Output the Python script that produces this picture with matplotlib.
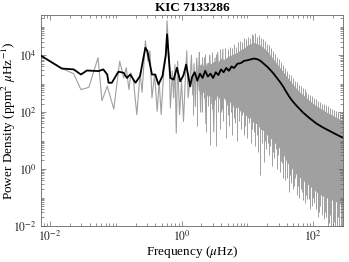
import numpy as np
import matplotlib
matplotlib.use('Agg')
import matplotlib.pyplot as plt
from matplotlib.ticker import FixedLocator, LogLocator, NullFormatter

# ---------------- data (log10 values) ----------------
# raw spectrum, sparse low-frequency part (log10 frequency in muHz, log10 power)
gray_logf = [-2.13, -1.82, -1.64, -1.53, -1.41, -1.27, -1.21, -1.13, -1.03, -0.94,
             -0.88, -0.84, -0.80, -0.77, -0.73, -0.68, -0.63, -0.60, -0.55, -0.51,
             -0.48, -0.45, -0.41, -0.37, -0.34, -0.31, -0.27, -0.24, -0.22, -0.19,
             -0.17, -0.14, -0.12, -0.10, -0.08, -0.06, -0.03, 0.00, 0.03, 0.06,
             0.08, 0.10, 0.13, 0.15, 0.17, 0.19, 0.21, 0.23, 0.25, 0.27,
             0.29, 0.31, 0.33, 0.35, 0.37, 0.39, 0.41, 0.43, 0.45, 0.47,
             0.49, 0.51, 0.53, 0.55, 0.57, 0.59, 0.61, 0.63]
gray_logp = [3.97, 3.53, 3.35, 2.79, 2.87, 3.91, 2.40, 2.91, 2.11, 3.79,
             3.20, 3.56, 2.79, 3.38, 3.08, 1.91, 3.38, 2.70, 4.50, 3.79,
             4.15, 2.50, 3.32, 2.03, 3.08, 1.91, 3.44, 3.91, 5.21, 3.91,
             2.14, 3.44, 2.50, 3.67, 1.26, 3.79, 1.91, 3.08, 1.67, 3.32,
             4.15, 2.50, 3.20, 4.00, 2.60, 3.70, 2.20, 3.90, 2.90, 4.10,
             2.00, 3.60, 2.70, 3.90, 1.60, 3.70, 2.80, 4.00, 2.30, 3.70,
             1.30, 3.90, 2.50, 4.10, 2.90, 3.80, 2.00, 4.20]

# raw spectrum, dense part: upper and lower edge of the solid band
band_logf = [0.25, 0.30, 0.35, 0.40, 0.45, 0.50, 0.55, 0.60, 0.65, 0.70,
             0.75, 0.80, 0.85, 0.90, 0.95, 1.00, 1.05, 1.10, 1.15, 1.20,
             1.25, 1.30, 1.35, 1.40, 1.45, 1.50, 1.55, 1.60, 1.65, 1.70,
             1.75, 1.80, 1.85, 1.90, 1.95, 2.00, 2.05, 2.10, 2.15, 2.20,
             2.25, 2.30, 2.35, 2.40, 2.455]
band_top = [3.60, 3.70, 3.60, 3.75, 3.70, 3.80, 3.75, 3.90, 3.85, 3.95,
            4.00, 4.05, 4.10, 4.20, 4.25, 4.35, 4.40, 4.45, 4.40, 4.35,
            4.25, 4.15, 4.00, 3.85, 3.70, 3.55, 3.40, 3.25, 3.10, 2.95,
            2.82, 2.70, 2.60, 2.50, 2.40, 2.30, 2.22, 2.15, 2.08, 2.00,
            1.95, 1.88, 1.82, 1.76, 1.70]
band_bottom = [2.80, 2.60, 2.80, 2.50, 2.70, 2.40, 2.60, 2.30, 2.50, 2.20,
               2.40, 2.10, 2.20, 2.00, 2.00, 1.80, 1.80, 1.60, 1.60, 1.40,
               1.35, 1.20, 1.10, 0.95, 0.85, 0.70, 0.50, 0.25, 0.10, -0.05,
               -0.20, -0.30, -0.40, -0.50, -0.60, -0.70, -0.80, -0.88, -0.95, -1.00,
               -1.05, -1.10, -1.15, -1.20, -1.25]

# raw spectrum, upward tips above the band
up_logf = [0.27, 0.31, 0.36, 0.42, 0.47, 0.53, 0.58, 0.62, 0.66, 0.70,
           0.73, 0.77, 0.80, 0.83, 0.86, 0.89, 0.92, 0.95, 0.98, 1.01,
           1.04, 1.07, 1.09, 1.12, 1.15, 1.18, 1.21, 1.24, 1.27, 1.30,
           1.33, 1.36, 1.39, 1.42, 1.45, 1.48, 1.51, 1.54, 1.57, 1.60,
           1.63, 1.66, 1.69, 1.72, 1.75, 1.78, 1.81, 1.84, 1.87, 1.90,
           1.93, 1.96, 1.99, 2.02, 2.05, 2.08, 2.11, 2.14, 2.17, 2.20,
           2.23, 2.26, 2.29, 2.32, 2.35, 2.38, 2.41, 2.44]
up_logp = [4.10, 3.95, 4.05, 4.00, 4.10, 4.05, 4.20, 4.10, 4.25, 4.20,
           4.30, 4.25, 4.40, 4.30, 4.45, 4.50, 4.45, 4.60, 4.55, 4.65,
           4.60, 4.75, 4.70, 4.78, 4.65, 4.70, 4.60, 4.55, 4.50, 4.40,
           4.35, 4.25, 4.15, 4.05, 3.95, 3.85, 3.75, 3.65, 3.55, 3.45,
           3.35, 3.30, 3.20, 3.10, 3.05, 2.95, 2.90, 2.85, 2.80, 2.70,
           2.65, 2.60, 2.55, 2.50, 2.45, 2.40, 2.35, 2.30, 2.28, 2.25,
           2.20, 2.15, 2.12, 2.08, 2.05, 2.02, 1.98, 1.95]

# raw spectrum, deep downward spikes below the band
spike_logf = [0.18, 0.21, 0.24, 0.28, 0.31, 0.34, 0.37, 0.40, 0.43, 0.46,
              0.48, 0.50, 0.52, 0.55, 0.58, 0.61, 0.63, 0.67, 0.70, 0.72,
              0.75, 0.77, 0.80, 0.82, 0.85, 0.87, 0.90, 0.92, 0.95, 0.97,
              1.00, 1.02, 1.05, 1.07, 1.10, 1.12, 1.14, 1.16, 1.19, 1.22,
              1.25, 1.27, 1.29, 1.31, 1.33, 1.35, 1.37, 1.39, 1.41, 1.43,
              1.45, 1.47, 1.49, 1.51, 1.53, 1.55, 1.57, 1.60, 1.63, 1.65,
              1.67, 1.69, 1.71, 1.73, 1.75, 1.77, 1.79, 1.81, 1.83, 1.85,
              1.87, 1.89, 1.91, 1.94, 1.96, 1.98, 2.00, 2.02, 2.05, 2.07,
              2.09, 2.11, 2.13, 2.16, 2.18, 2.20, 2.22, 2.24, 2.26, 2.28,
              2.30, 2.32, 2.34, 2.36, 2.38, 2.40, 2.42, 2.44]
spike_logp = [1.90, 2.40, 1.50, 2.30, 2.00, 2.50, 1.30, 2.20, 0.85, 2.10,
              1.60, 2.30, 0.80, 2.00, 1.40, 2.10, 1.70, 1.10, 1.90, 1.50,
              2.00, 1.20, 1.80, 1.60, 1.00, 1.70, 1.40, 1.90, 1.20, 1.50,
              1.10, 1.60, 0.90, 1.40, 1.30, 0.80, 1.20, 0.60, -0.20, 0.90,
              0.25, 1.00, 0.70, 0.90, 0.50, 0.80, 0.10, 0.60, 0.40, 0.70,
              0.00, 0.50, -0.10, 0.30, 0.20, -0.30, -0.40, -0.30, -0.80, -0.20,
              -0.50, -0.70, -0.60, -0.30, -0.90, -0.60, -1.00, -0.70, -0.80, -1.10,
              -1.20, -0.90, -1.05, -1.05, -1.40, -1.30, -1.00, -1.20, -1.40, -1.70,
              -1.50, -1.30, -1.60, -1.77, -1.50, -1.70, -2.00, -1.90, -1.60, -2.00,
              -2.00, -1.85, -2.00, -2.00, -1.70, -2.00, -2.00, -2.00]

# smoothed spectrum
black_logf = [-2.13, -1.82, -1.64, -1.53, -1.44, -1.26, -1.19, -1.13, -1.11, -1.06,
              -0.96, -0.88, -0.83, -0.78, -0.70, -0.63, -0.58, -0.55, -0.52, -0.48,
              -0.45, -0.40, -0.35, -0.29, -0.24, -0.22, -0.20, -0.17, -0.12, -0.07,
              -0.02, 0.03, 0.07, 0.10, 0.13, 0.16, 0.20, 0.24, 0.28, 0.32,
              0.36, 0.40, 0.44, 0.48, 0.52, 0.56, 0.60, 0.64, 0.68, 0.72,
              0.76, 0.80, 0.85, 0.90, 0.95, 1.00, 1.05, 1.10, 1.15, 1.20,
              1.25, 1.30, 1.35, 1.40, 1.45, 1.50, 1.55, 1.60, 1.65, 1.70,
              1.75, 1.80, 1.85, 1.90, 1.95, 2.00, 2.05, 2.10, 2.15, 2.20,
              2.25, 2.30, 2.35, 2.40, 2.455]
black_logp = [3.97, 3.53, 3.50, 3.32, 3.46, 3.44, 3.50, 3.32, 3.03, 3.03,
              3.42, 3.38, 3.20, 3.32, 3.03, 3.27, 3.90, 4.26, 4.15, 3.67,
              3.32, 3.32, 2.97, 3.27, 4.00, 4.73, 4.10, 3.20, 3.14, 3.56,
              3.08, 3.30, 3.67, 3.30, 2.90, 3.23, 3.40, 3.10, 3.35, 3.20,
              3.45, 3.25, 3.35, 3.20, 3.40, 3.30, 3.50, 3.40, 3.55, 3.45,
              3.60, 3.55, 3.70, 3.72, 3.80, 3.82, 3.85, 3.88, 3.86, 3.80,
              3.70, 3.60, 3.48, 3.35, 3.20, 3.05, 2.88, 2.68, 2.50, 2.35,
              2.22, 2.10, 1.98, 1.88, 1.78, 1.69, 1.60, 1.53, 1.46, 1.40,
              1.34, 1.28, 1.22, 1.16, 1.10]

x_major = [1e-2, 1e0, 1e2]
x_labels = ['$10^{-2}$', '$10^{0}$', '$10^{2}$']
y_major = [1e-2, 1e0, 1e2, 1e4]
y_labels = ['$10^{-2}$', '$10^{0}$', '$10^{2}$', '$10^{4}$']

# ---------------- plotting ----------------
plt.rcParams['font.family'] = 'serif'
plt.rcParams['font.serif'] = ['Liberation Serif', 'DejaVu Serif']
plt.rcParams['mathtext.fontset'] = 'stix'

GRAY = '#a0a0a0'
fig = plt.figure(figsize=(3.49, 2.62), dpi=100)
ax = fig.add_axes([41 / 349, 36 / 262, 302 / 349, 211 / 262])
ax.set_xscale('log')
ax.set_yscale('log')

bf = 10 ** np.array(band_logf)
ax.fill_between(bf, 10 ** np.array(band_bottom), 10 ** np.array(band_top),
                color=GRAY, lw=0, zorder=1)
sf = 10 ** np.array(spike_logf)
stop = np.interp(spike_logf, band_logf, band_bottom) + 0.4
ax.vlines(sf, 10 ** np.array(spike_logp), 10 ** stop, color=GRAY, lw=0.7, zorder=1)
uf = 10 ** np.array(up_logf)
ubase = np.interp(up_logf, band_logf, band_top) - 0.3
ax.vlines(uf, 10 ** ubase, 10 ** np.array(up_logp), color=GRAY, lw=0.7, zorder=1)
ax.plot(10 ** np.array(gray_logf), 10 ** np.array(gray_logp), color=GRAY, lw=0.8, zorder=2)
ax.plot(10 ** np.array(black_logf), 10 ** np.array(black_logp), color='black', lw=1.3, zorder=3)

ax.set_xlim(10 ** -2.137, 10 ** 2.455)
ax.set_ylim(1e-2, 10 ** 5.41)

for axis, major in ((ax.xaxis, x_major), (ax.yaxis, y_major)):
    axis.set_major_locator(FixedLocator(major))
    axis.set_minor_locator(LogLocator(base=10, subs=np.arange(1, 10) * 1.0, numticks=100))
    axis.set_minor_formatter(NullFormatter())
ax.set_xticklabels(x_labels)
ax.set_yticklabels(y_labels)

ax.tick_params(which='both', direction='in', top=True, right=True,
               color='#666666', width=0.5, labelsize=8.5, labelcolor='#222222')
ax.tick_params(which='major', length=3.5, pad=3)
ax.tick_params(which='minor', length=2)
for s in ax.spines.values():
    s.set_color('#666666')
    s.set_linewidth(0.6)

ax.set_title('KIC 7133286', fontweight='bold', fontsize=9.5, pad=3)
ax.set_xlabel('Frequency ($\\mu$Hz)', fontsize=9.5)
ax.set_ylabel('Power Density (ppm$^2$ $\\mu$Hz$^{-1}$)', fontsize=9.5)
ax.xaxis.set_label_coords(0.5, -0.085)
ax.yaxis.set_label_coords(-0.075, 0.5)

fig.savefig('out.png', dpi=100)
